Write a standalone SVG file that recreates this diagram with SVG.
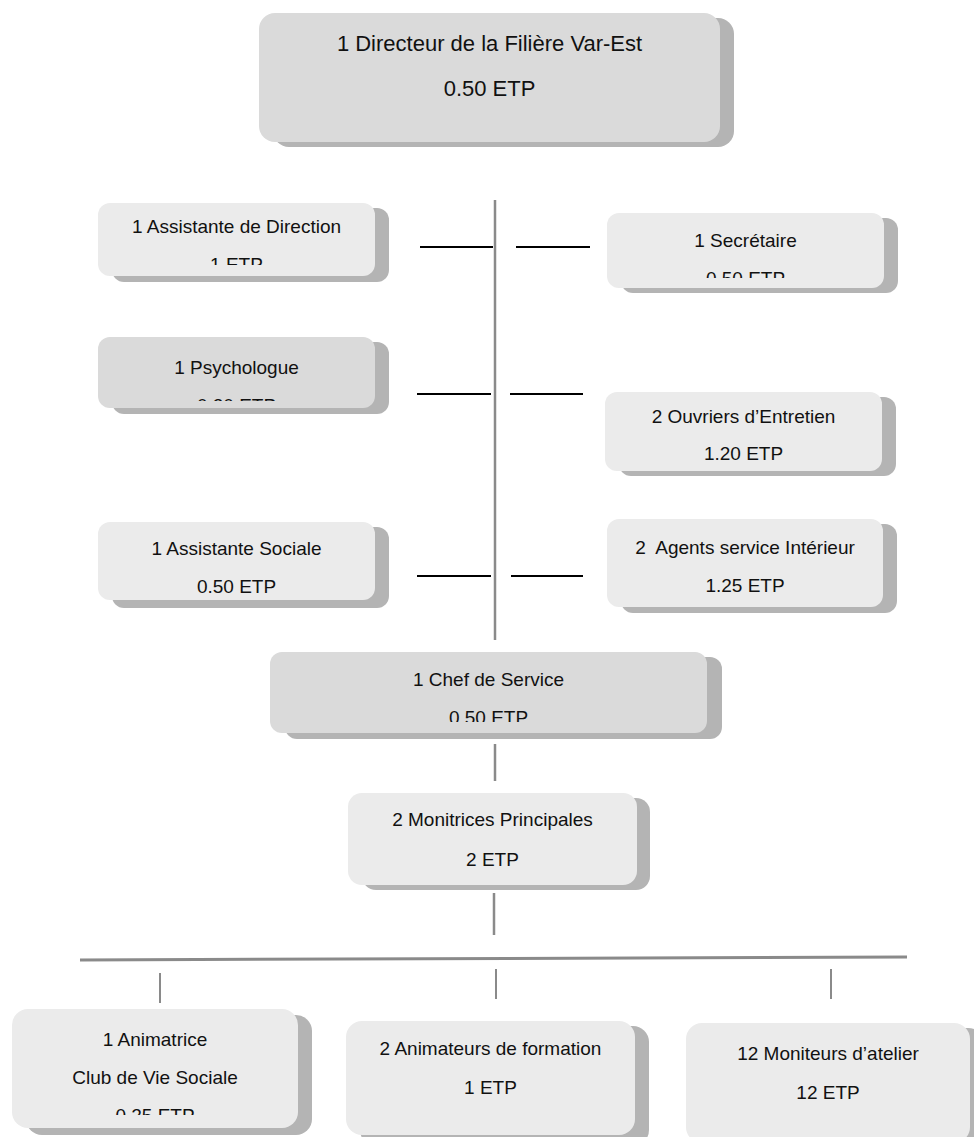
<svg xmlns="http://www.w3.org/2000/svg" width="974" height="1137" viewBox="0 0 974 1137">
<defs>
<style>
.sh{fill:#b4b4b4}
.bd{fill:#dadada}
.bl{fill:#ebebeb}
text{font-family:"Liberation Sans",Arial,sans-serif;font-size:19px;fill:#111;text-anchor:middle}
.big{font-size:22px}
.gl{stroke:#8a8a8a;stroke-width:2.5;fill:none}
.bk{stroke:#000;stroke-width:2;fill:none}
</style>
<clipPath id="c1"><rect x="98" y="203" width="277" height="62"/></clipPath>
<clipPath id="c2"><rect x="607" y="213" width="277" height="65"/></clipPath>
<clipPath id="c3"><rect x="98" y="337" width="277" height="64"/></clipPath>
<clipPath id="c4"><rect x="270" y="652" width="437" height="70"/></clipPath>
<clipPath id="c5"><rect x="12" y="1009" width="286" height="106"/></clipPath>
</defs>
<g id="connectors">
<line class="gl" x1="495" y1="200" x2="495" y2="640"/>
<line class="bk" x1="420" y1="247" x2="493" y2="247"/>
<line class="bk" x1="516" y1="247" x2="590" y2="247"/>
<line class="bk" x1="417" y1="394" x2="491" y2="394"/>
<line class="bk" x1="510" y1="394" x2="583" y2="394"/>
<line class="bk" x1="417" y1="576" x2="491" y2="576"/>
<line class="bk" x1="511" y1="576" x2="583" y2="576"/>
<line class="gl" x1="495" y1="744" x2="495" y2="781"/>
<line class="gl" x1="494" y1="893" x2="494" y2="935"/>
<line class="gl" x1="80" y1="960" x2="907" y2="957" style="stroke-width:3"/>
<line class="gl" x1="160" y1="973" x2="160" y2="1003" style="stroke-width:2"/>
<line class="gl" x1="496" y1="969" x2="496" y2="999" style="stroke-width:2"/>
<line class="gl" x1="831" y1="969" x2="831" y2="999" style="stroke-width:2"/>
</g>
<g id="directeur">
<rect class="sh" x="273" y="18" width="461" height="129" rx="16"/>
<rect class="bd" x="259" y="13" width="461" height="129" rx="16"/>
<text class="big" x="489.5" y="51">1 Directeur de la Filière Var-Est</text>
<text class="big" x="489.5" y="96">0.50 ETP</text>
</g>
<g id="assistante-direction">
<rect class="sh" x="112" y="208" width="277" height="74" rx="12"/>
<rect class="bl" x="98" y="203" width="277" height="73" rx="12"/>
<g clip-path="url(#c1)">
<text x="236.5" y="232.5">1 Assistante de Direction</text>
<text x="236.5" y="270.5">1 ETP</text>
</g>
</g>
<g id="secretaire">
<rect class="sh" x="621" y="218" width="277" height="75" rx="12"/>
<rect class="bl" x="607" y="213" width="277" height="75" rx="12"/>
<g clip-path="url(#c2)">
<text x="745.5" y="246.5">1 Secrétaire</text>
<text x="745.5" y="284.5">0.50 ETP</text>
</g>
</g>
<g id="psychologue">
<rect class="sh" x="112" y="342" width="277" height="72" rx="12"/>
<rect class="bd" x="98" y="337" width="277" height="71" rx="12"/>
<g clip-path="url(#c3)">
<text x="236.5" y="373.5">1 Psychologue</text>
<text x="236.5" y="411.5">0.20 ETP</text>
</g>
</g>
<g id="ouvriers">
<rect class="sh" x="619" y="397" width="277" height="79" rx="12"/>
<rect class="bl" x="605" y="392" width="277" height="79" rx="12"/>
<text x="743.5" y="422.5">2 Ouvriers d’Entretien</text>
<text x="743.5" y="459.5">1.20 ETP</text>
</g>
<g id="assistante-sociale">
<rect class="sh" x="112" y="527" width="277" height="81" rx="12"/>
<rect class="bl" x="98" y="522" width="277" height="78" rx="12"/>
<text x="236.5" y="554.5">1 Assistante Sociale</text>
<text x="236.5" y="592.5">0.50 ETP</text>
</g>
<g id="agents">
<rect class="sh" x="621" y="524" width="276" height="89" rx="12"/>
<rect class="bl" x="607" y="519" width="276" height="88" rx="12"/>
<text x="745" y="553.5" xml:space="preserve">2  Agents service Intérieur</text>
<text x="745" y="591.5">1.25 ETP</text>
</g>
<g id="chef-service">
<rect class="sh" x="285" y="657" width="437" height="82" rx="12"/>
<rect class="bd" x="270" y="652" width="437" height="81" rx="12"/>
<g clip-path="url(#c4)">
<text x="488.5" y="685.5">1 Chef de Service</text>
<text x="488.5" y="723.5">0.50 ETP</text>
</g>
</g>
<g id="monitrices">
<rect class="sh" x="362" y="798" width="288" height="92" rx="14"/>
<rect class="bl" x="348" y="793" width="289" height="92" rx="14"/>
<text x="492.5" y="825.5">2 Monitrices Principales</text>
<text x="492.5" y="865.5">2 ETP</text>
</g>
<g id="animatrice">
<rect class="sh" x="26" y="1015" width="286" height="120" rx="16"/>
<rect class="bl" x="12" y="1009" width="286" height="119" rx="16"/>
<g clip-path="url(#c5)">
<text x="155" y="1045.5">1 Animatrice</text>
<text x="155" y="1083.5">Club de Vie Sociale</text>
<text x="155" y="1121.5">0.25 ETP</text>
</g>
</g>
<g id="animateurs">
<rect class="sh" x="360" y="1026" width="289" height="120" rx="16"/>
<rect class="bl" x="346" y="1021" width="289" height="114" rx="16"/>
<text x="490.5" y="1054.5">2 Animateurs de formation</text>
<text x="490.5" y="1093.5">1 ETP</text>
</g>
<g id="moniteurs">
<rect class="sh" x="700" y="1028" width="284" height="120" rx="16"/>
<rect class="bl" x="686" y="1023" width="284" height="120" rx="16"/>
<text x="828" y="1059.5">12 Moniteurs d’atelier</text>
<text x="828" y="1098.5">12 ETP</text>
</g>
</svg>
